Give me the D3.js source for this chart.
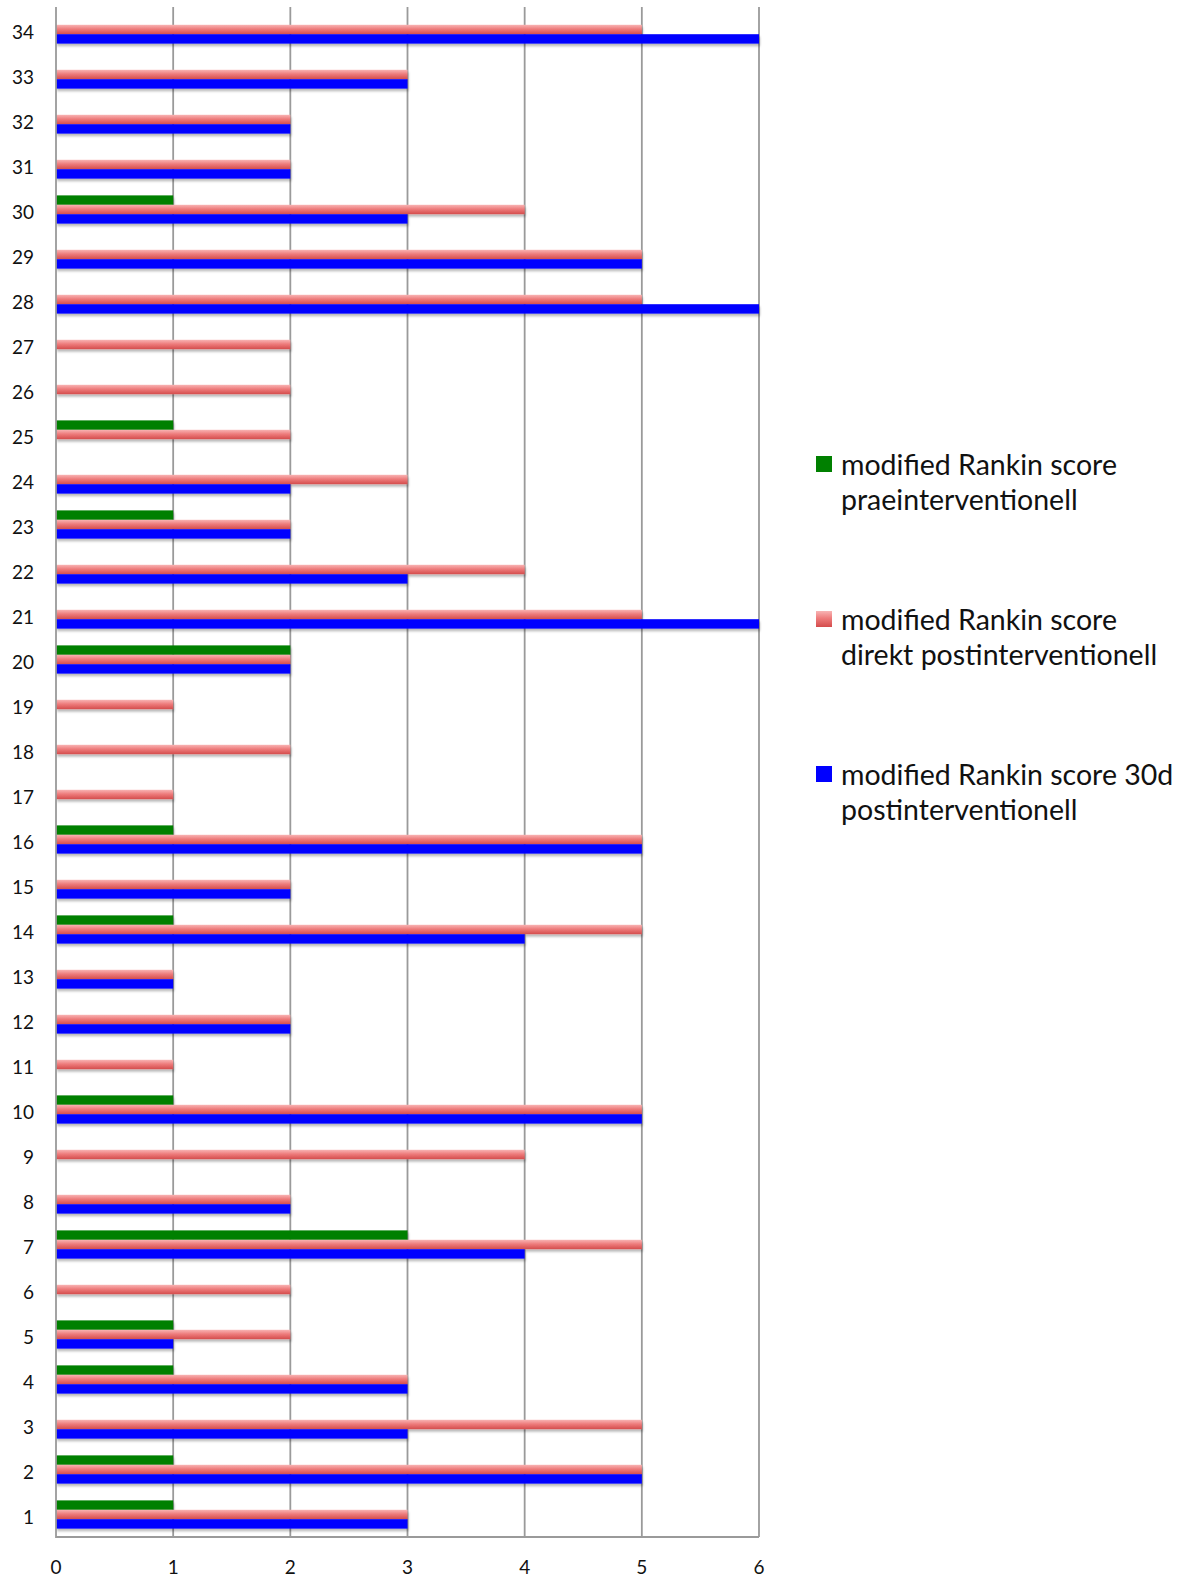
<!DOCTYPE html>
<html lang="de">
<head>
<meta charset="UTF-8">
<title>modified Rankin score</title>
<script src="https://d3js.org/d3.v7.min.js"></script>
<style>
  body { margin: 0; background: #fff; }
  text { font-family: Lato, "Open Sans", sans-serif; fill: #111; }
</style>
</head>
<body>
<script>
// ---- data ----
var patients = d3.range(1, 35).map(String);   // 1 .. 34
var seriesNames = [
  "modified Rankin score praeinterventionell",
  "modified Rankin score direkt postinterventionell",
  "modified Rankin score 30d postinterventionell"
];
var praeValues   = [1,1,0,1,1,0,3,0,0,1,0,0,0,1,0,1,0,0,0,2,0,0,1,0,1,0,0,0,0,1,0,0,0,0];
var direktValues = [3,5,5,3,2,2,5,2,4,5,1,2,1,5,2,5,1,2,1,2,5,4,2,3,2,2,2,5,5,4,2,2,3,5];
var d30Values    = [3,5,3,3,1,0,4,2,0,5,0,2,1,4,2,5,0,0,0,2,6,3,2,2,0,0,0,6,5,3,2,2,3,6];
var xTicks = [0, 1, 2, 3, 4, 5, 6];
var legendLines = [
  ["modified Rankin score", "praeinterventionell"],
  ["modified Rankin score", "direkt postinterventionell"],
  ["modified Rankin score 30d", "postinterventionell"]
];

// ---- layout ----
var W = 1181, H = 1578;
var plot = {left: 56, right: 759, top: 7, bottom: 1537};
var colors = ["#008000", "url(#redGrad)", "#0000ff"];

var svg = d3.select("body").append("svg").attr("width", W).attr("height", H);
var defs = svg.append("defs");

// red bars have a glossy vertical gradient
var grad = defs.append("linearGradient").attr("id", "redGrad")
    .attr("x1", 0).attr("y1", 0).attr("x2", 0).attr("y2", 1);
grad.append("stop").attr("offset", "0%").attr("stop-color", "#f8b4b4");
grad.append("stop").attr("offset", "45%").attr("stop-color", "#ee7c7c");
grad.append("stop").attr("offset", "100%").attr("stop-color", "#d44c4c");

var shadow = defs.append("filter").attr("id", "shadow")
    .attr("x", "-5%").attr("y", "-50%").attr("width", "110%").attr("height", "220%");
shadow.append("feDropShadow").attr("dx", 1).attr("dy", 2.5)
    .attr("stdDeviation", 1.2).attr("flood-color", "#000").attr("flood-opacity", 0.28);

var x = d3.scaleLinear().domain([0, 6]).range([plot.left, plot.right]);
var y = d3.scaleBand().domain(patients.slice().reverse())
    .range([plot.top, plot.bottom]).paddingInner(0.373).paddingOuter(0.1865);
var ySub = d3.scaleBand().domain([0, 1, 2]).range([0, y.bandwidth()]);

// grid lines
svg.append("g").selectAll("line").data(xTicks.slice(1)).join("line")
    .attr("x1", function (d) { return x(d); }).attr("x2", function (d) { return x(d); })
    .attr("y1", plot.top).attr("y2", plot.bottom)
    .attr("stroke", "#9a9a9a").attr("stroke-width", 1.8);

// bars
var rows = patients.map(function (p, i) {
  return {p: p, v: [praeValues[i], direktValues[i], d30Values[i]]};
});
var groups = svg.append("g").selectAll("g").data(rows).join("g")
    .attr("transform", function (d) { return "translate(0," + y(d.p) + ")"; });
groups.selectAll("rect")
    .data(function (d) { return d.v.map(function (v, s) { return {v: v, s: s}; }); })
    .join("rect")
    .filter(function (d) { return d.v > 0; })
    .attr("x", x(0))
    .attr("y", function (d) { return ySub(d.s); })
    .attr("width", function (d) { return x(d.v) - x(0); })
    .attr("height", ySub.bandwidth())
    .attr("fill", function (d) { return colors[d.s]; })
    .attr("filter", "url(#shadow)");

// axis frame (left + bottom)
svg.append("path")
    .attr("d", "M" + plot.left + "," + plot.top + "V" + plot.bottom + "H" + plot.right)
    .attr("fill", "none").attr("stroke", "#9a9a9a").attr("stroke-width", 1.8);

// y labels
svg.append("g").selectAll("text").data(patients).join("text")
    .attr("x", 34)
    .attr("y", function (d) { return y(d) + y.bandwidth() / 2 + 2.5; })
    .attr("dy", "0.35em")
    .attr("text-anchor", "end")
    .attr("font-size", 19)
    .text(function (d) { return d; });

// x labels
svg.append("g").selectAll("text").data(xTicks).join("text")
    .attr("x", function (d) { return x(d); })
    .attr("y", 1574)
    .attr("text-anchor", "middle")
    .attr("font-size", 19)
    .text(function (d) { return d; });

// legend
var legendY = [456, 611, 766];
var legend = svg.append("g").selectAll("g").data(seriesNames).join("g")
    .attr("transform", function (d, i) { return "translate(816," + legendY[i] + ")"; });
legend.append("rect").attr("width", 16).attr("height", 16)
    .attr("fill", function (d, i) { return colors[i]; });
legend.each(function (d, i) {
  var t = d3.select(this).append("text").attr("x", 25).attr("y", 19).attr("font-size", 28.5);
  legendLines[i].forEach(function (line, k) {
    t.append("tspan").attr("x", 25).attr("dy", k === 0 ? 0 : 35).text(line);
  });
});
</script>
</body>
</html>
